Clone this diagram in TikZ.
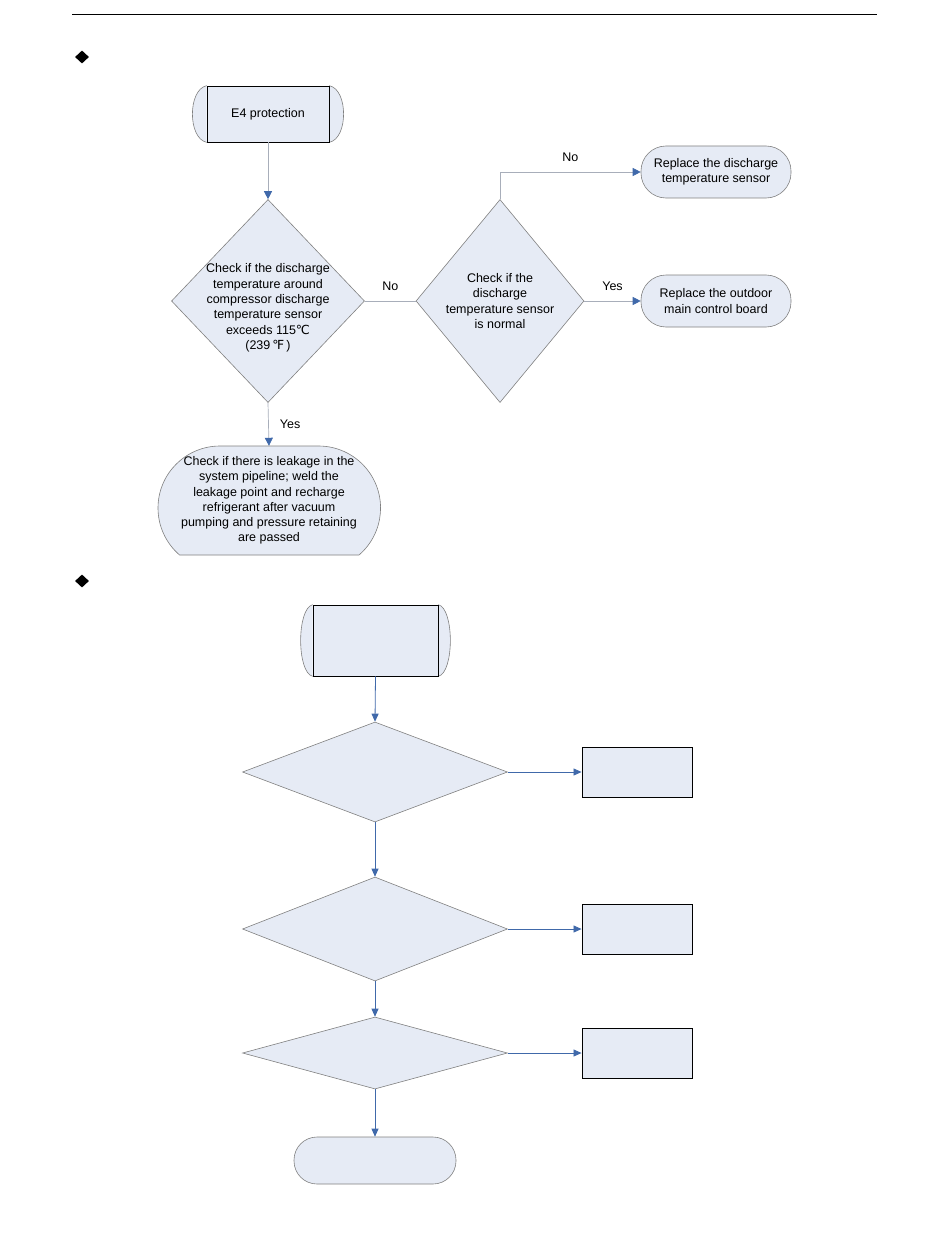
\documentclass[tikz,border=0pt]{standalone}
\usepackage{fontspec}
\setmainfont{Liberation Sans}
\newfontfamily\symfont{DejaVu Sans}
\usepackage{tikz}
\usetikzlibrary{arrows.meta, backgrounds, positioning, shapes.geometric}

\definecolor{boxfill}{RGB}{230,235,245}
\definecolor{edgegray}{RGB}{128,128,128}
\definecolor{linegray}{RGB}{168,174,186}
\definecolor{arrowblue}{RGB}{64,105,170}

\begin{document}
\begin{tikzpicture}[x=1pt,y=-1pt,node distance=262pt,
    font={\fontsize{12.5}{15.3}\selectfont}]
  \tikzstyle{every node}=[inner sep=0pt]
  \tikzstyle{decision}=[diamond,draw=edgegray,fill=boxfill,line width=0.6pt]
  \tikzstyle{dtext}=[align=center]
  \tikzstyle{terminal}=[rectangle,rounded corners=25pt,draw=edgegray,fill=boxfill,
    line width=0.6pt,minimum width=150pt,minimum height=52pt,align=center]
  \tikzstyle{startbox}=[rectangle,draw=black,fill=boxfill,line width=0.7pt]
  \tikzstyle{bulge}=[fill=boxfill,draw=edgegray,line width=0.6pt]
  \tikzstyle{actionbox}=[rectangle,draw=black,fill=boxfill,line width=0.9pt,
    minimum width=110pt,minimum height=50pt]
  \tikzstyle{flowgray}=[draw=linegray,line width=0.7pt,
    -{Triangle[length=8pt,width=8pt,color=arrowblue]}]
  \tikzstyle{flowblue}=[draw=arrowblue,line width=0.8pt,-{Triangle[length=8pt,width=7pt]}]
  \tikzstyle{bullet}=[diamond,fill=black,minimum width=14pt,minimum height=13pt]

  \useasboundingbox (0,0) rectangle (950,1260);
  \draw[line width=0.9pt] (72,14) -- (877,14);

  \node[bullet] (mark1) at (82,57) {};
  \node[bullet] (mark2) at (82,581) {};

  % first chart
  \node[startbox,minimum width=122pt,minimum height=56pt] (e4) at (268,114) {E4 protection};

  \node[decision,minimum width=193pt,minimum height=203pt] (chkTemp) at (268,301) {};
  \node[dtext] (chkTempTxt) at (268,308) {Check if the discharge\\temperature around\\compressor discharge\\temperature sensor\\exceeds 115{\symfont ℃}\\(239\,{\symfont ℉}\,)};

  \node[decision,minimum width=168pt,minimum height=203pt] (chkSensor) at (500,301) {};
  \node[dtext] (chkSensorTxt) at (500,301) {Check if the\\discharge\\temperature sensor\\is normal};

  \node[terminal] (newSensor) at (716,172) {Replace the discharge\\temperature sensor};
  \node[terminal] (newBoard) at (716,301) {Replace the outdoor\\main control board};

  \filldraw[bulge] (220,446) arc[start angle=90,end angle=229.3,radius=62pt]
    -- (359,555) arc[start angle=-49.3,end angle=90,radius=62pt] -- cycle;
  \node[dtext,minimum height=109pt] (leak) at (269,500.5) {Check if there is leakage in the\\system pipeline; weld the\\leakage point and recharge\\refrigerant after vacuum\\pumping and pressure retaining\\are passed};

  \begin{scope}[on background layer]
    \filldraw[bulge] (e4.north west) .. controls +(-19,4) and +(-19,-4) .. (e4.south west);
    \filldraw[bulge] (e4.north east) .. controls +(19,4) and +(19,-4) .. (e4.south east);
  \end{scope}

  \draw[flowgray] (e4.south) -- (chkTemp.north);
  \draw[draw=linegray,line width=0.7pt] (chkTemp.east) -- (chkSensor.west)
    node[midway,above=10pt] (lblNo1) {No};
  \draw[flowgray] (chkSensor.north) |- (newSensor.west)
    node[pos=0.75,above=10pt] (lblNo2) {No};
  \draw[flowgray] (chkSensor.east) -- (newBoard.west)
    node[midway,above=10pt] (lblYes1) {Yes};
  \draw[flowgray] (chkTemp.south) -- (leak.north)
    node[midway,right=11pt] (lblYes2) {Yes};

  % second chart
  \node[startbox,minimum width=125pt,minimum height=71pt] (start2) at (375.5,640.5) {};
  \begin{scope}[on background layer]
    \filldraw[bulge] (start2.north west) .. controls +(-16,4) and +(-16,-4) .. (start2.south west);
    \filldraw[bulge] (start2.north east) .. controls +(16,4) and +(16,-4) .. (start2.south east);
  \end{scope}

  \node[decision,minimum width=265pt,minimum height=100pt] (qA) at (375,772) {};
  \node[decision,minimum width=265pt,minimum height=104pt] (qB) at (375,929) {};
  \node[decision,minimum width=265pt,minimum height=72pt]  (qC) at (375,1053) {};

  \node[actionbox] (actA) [right of=qA] {};
  \node[actionbox] (actB) [right of=qB] {};
  \node[actionbox] (actC) [right of=qC] {};

  \node[terminal,minimum width=162pt,minimum height=47pt,rounded corners=23pt] (end2) at (375,1160.5) {};

  \draw[flowblue] (start2.south) -- (qA.north);
  \draw[flowblue] (qA.south) -- (qB.north);
  \draw[flowblue] (qB.south) -- (qC.north);
  \draw[flowblue] (qC.south) -- (end2.north);
  \draw[flowblue] (qA.east) -- (actA.west);
  \draw[flowblue] (qB.east) -- (actB.west);
  \draw[flowblue] (qC.east) -- (actC.west);
\end{tikzpicture}
\end{document}
